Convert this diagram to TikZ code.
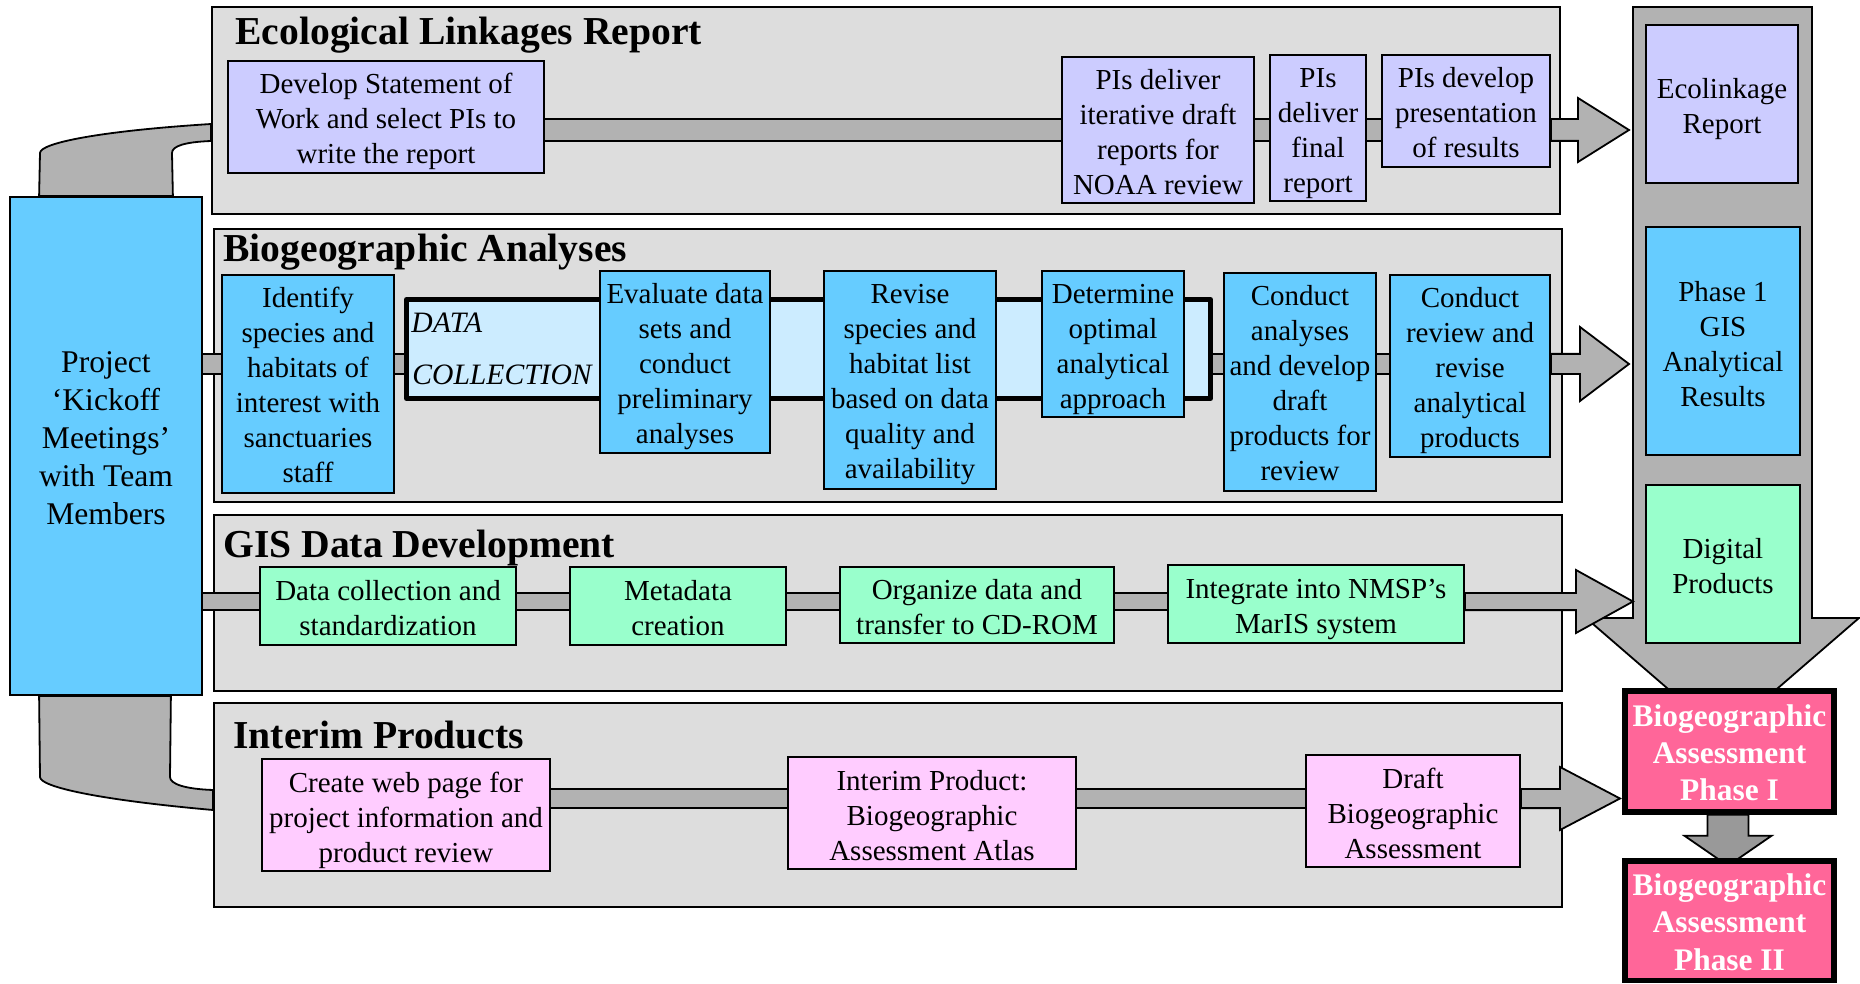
\documentclass[tikz,border=0pt]{standalone}
\usepackage{fontspec}
\setmainfont{Liberation Serif}
\usetikzlibrary{fit,calc}

\definecolor{panelgray}{HTML}{DDDDDD}
\definecolor{bargray}{HTML}{B2B2B2}
\definecolor{darkbar}{HTML}{999999}
\definecolor{ecofill}{HTML}{CCCCFF}
\definecolor{bluefill}{HTML}{66CCFF}
\definecolor{paleblue}{HTML}{CCECFF}
\definecolor{greenfill}{HTML}{99FFCC}
\definecolor{pinkfill}{HTML}{FFCCFF}
\definecolor{rosefill}{HTML}{FF6699}

% Text of a box: #1 text style, #2 box node, #3 number of lines,
% #4 line pitch (px), #5 offset of the middle baseline below the centre (px), #6 lines
\newcommand{\boxlabel}[6]{%
  \node[#1] (#2-t) at ($(#2.center)+(0,{#5-(#3-1)*#4/2})$)
    {\begin{tabular}[t]{@{}c@{}}#6\end{tabular}};}

\pgfdeclarelayer{bandlayer}
\pgfdeclarelayer{panellayer}
\pgfdeclarelayer{barlayer}
\pgfsetlayers{bandlayer,panellayer,barlayer,main}

\tikzset{
  panel/.style={draw, fill=panelgray, line width=1pt, inner sep=0pt},
  box/.style={draw, line width=0.9pt, inner sep=0pt},
  ecobox/.style={box, fill=ecofill},
  biobox/.style={box, fill=bluefill},
  gisbox/.style={box, fill=greenfill},
  intbox/.style={box, fill=pinkfill},
  phasebox/.style={box, fill=rosefill, line width=2.8pt},
  boxtext/.style={anchor=base, inner sep=0pt, font=\fontsize{14.5pt}{17.5pt}\selectfont},
  kicktext/.style={boxtext, font=\fontsize{15.8pt}{19pt}\selectfont},
  phasetext/.style={boxtext, text=white, font=\bfseries\fontsize{15.7pt}{18.7pt}\selectfont},
  dcframe/.style={draw, fill=paleblue, line width=2.5pt, line join=round, inner sep=0pt},
  paneltitle/.style={anchor=base west, inner sep=0pt,
    font=\bfseries\fontsize{19.8pt}{24pt}\selectfont},
  dclabel/.style={anchor=base west, inner sep=0pt,
    font=\itshape\fontsize{14.8pt}{17.5pt}\selectfont},
  bar/.style={draw=black, line width=0.9pt, double=bargray, double distance=#1},
  arrowshape/.style={draw=black, fill=bargray, line width=0.9pt, line join=miter},
  band/.style={draw=black, fill=bargray, line width=0.9pt},
}

\begin{document}
\begin{tikzpicture}[x=0.5pt, y=-0.5pt]
\useasboundingbox (0,0) rectangle (1860,984);
\begin{pgfonlayer}{bandlayer}
  \fill[white] (0,0) rectangle (1860,984);
\end{pgfonlayer}

% ---------- lane panels ----------
\begin{pgfonlayer}{panellayer}
  \node[panel, fit={(212,7) (1560,214)}] (eco) {};
  \node[panel, fit={(214,229) (1562,502)}] (bio) {};
  \node[panel, fit={(214,515) (1562,691)}] (gis) {};
  \node[panel, fit={(214,703) (1562,907)}] (int) {};
\end{pgfonlayer}

\node[paneltitle] (ecot) at (235,45) {Ecological Linkages Report};
\node[paneltitle] (biot) at (223,262) {Biogeographic Analyses};
\node[paneltitle] (gist) at (223,557) {GIS Data Development};
\node[paneltitle] (intt) at (233,748) {Interim Products};

% ---------- boxes ----------
\node[biobox, fit={(10,197) (202,695)}] (kick) {};

\node[ecobox, fit={(228,61) (544,173)}] (dev) {};
\node[ecobox, fit={(1062,57) (1254,203)}] (pid) {};
\node[ecobox, fit={(1270,55) (1366,201)}] (pfr) {};
\node[ecobox, fit={(1382,55) (1550,167)}] (pdp) {};

\node[dcframe, fit={(406.5,299.5) (1210.5,398.5)}] (dc) {};
\node[dclabel] (dct1) at (411,333) {DATA};
\node[dclabel] (dct2) at (412,385) {COLLECTION};
\node[biobox, fit={(222,275) (394,493)}] (ident) {};
\node[biobox, fit={(600,271) (770,453)}] (evl) {};
\node[biobox, fit={(824,271) (996,489)}] (rev) {};
\node[biobox, fit={(1042,271) (1184,417)}] (det) {};
\node[biobox, fit={(1224,273) (1376,491)}] (cond) {};
\node[biobox, fit={(1390,275) (1550,457)}] (crev) {};

\node[gisbox, fit={(260,567) (516,645)}] (dcs) {};
\node[gisbox, fit={(570,567) (786,645)}] (meta) {};
\node[gisbox, fit={(840,567) (1114,643)}] (org) {};
\node[gisbox, fit={(1168,565) (1464,643)}] (integ) {};

\node[intbox, fit={(262,759) (550,871)}] (web) {};
\node[intbox, fit={(788,757) (1076,869)}] (atlas) {};
\node[intbox, fit={(1306,755) (1520,867)}] (draft) {};

\node[ecobox, fit={(1646,25) (1798,183)}] (ecorep) {};
\node[biobox, fit={(1646,227) (1800,455)}] (gisres) {};
\node[gisbox, fit={(1646,485) (1800,643)}] (digi) {};
\node[phasebox, fit={(1625,691) (1834,812)}] (p1) {};
\node[phasebox, fit={(1625,861) (1834,980.5)}] (p2) {};

% ---------- box texts ----------
\boxlabel{kicktext}{kick}{5}{38}{3}{Project\\‘Kickoff\\Meetings’\\with Team\\Members}
\boxlabel{boxtext}{dev}{3}{35}{12}{Develop Statement of\\Work and select PIs to\\write the report}
\boxlabel{boxtext}{pid}{4}{35}{12}{PIs deliver\\iterative draft\\reports for\\NOAA review}
\boxlabel{boxtext}{pfr}{4}{35}{12}{PIs\\deliver\\final\\report}
\boxlabel{boxtext}{pdp}{3}{35}{12}{PIs develop\\presentation\\of results}
\boxlabel{boxtext}{ident}{6}{35}{11}{Identify\\species and\\habitats of\\interest with\\sanctuaries\\staff}
\boxlabel{boxtext}{evl}{5}{35}{12}{Evaluate data\\sets and\\conduct\\preliminary\\analyses}
\boxlabel{boxtext}{rev}{6}{35}{11}{Revise\\species and\\habitat list\\based on data\\quality and\\availability}
\boxlabel{boxtext}{det}{4}{35}{12}{Determine\\optimal\\analytical\\approach}
\boxlabel{boxtext}{cond}{6}{35}{11}{Conduct\\analyses\\and develop\\draft\\products for\\review}
\boxlabel{boxtext}{crev}{5}{35}{12}{Conduct\\review and\\revise\\analytical\\products}
\boxlabel{boxtext}{dcs}{2}{35}{12}{Data collection and\\standardization}
\boxlabel{boxtext}{meta}{2}{35}{12}{Metadata\\creation}
\boxlabel{boxtext}{org}{2}{35}{12}{Organize data and\\transfer to CD-ROM}
\boxlabel{boxtext}{integ}{2}{35}{12}{Integrate into NMSP’s\\MarIS system}
\boxlabel{boxtext}{web}{3}{35}{12}{Create web page for\\project information and\\product review}
\boxlabel{boxtext}{atlas}{3}{35}{12}{Interim Product:\\Biogeographic\\Assessment Atlas}
\boxlabel{boxtext}{draft}{3}{35}{12}{Draft\\Biogeographic\\Assessment}
\boxlabel{boxtext}{ecorep}{2}{35}{12}{Ecolinkage\\Report}
\boxlabel{boxtext}{gisres}{4}{35}{13}{Phase 1\\GIS\\Analytical\\Results}
\boxlabel{boxtext}{digi}{2}{35}{12}{Digital\\Products}
\boxlabel{phasetext}{p1}{3}{37.4}{12}{Biogeographic\\Assessment\\Phase I}
\boxlabel{phasetext}{p2}{3}{37.4}{12}{Biogeographic\\Assessment\\Phase II}

% ---------- curved bands from the kickoff box ----------
\begin{pgfonlayer}{bandlayer}
  \draw[band] ($(kick.north west)+(30,0)$) -- (40,153)
      .. controls (40,143) and (100,131) .. (eco.west |- 0,124)
      -- (eco.west |- 0,141)
      .. controls (185,142) and (172,146) .. (172,153)
      -- ($(kick.north east)+(-30,0)$) -- cycle;
  \draw[band] ($(kick.south west)+(30,0)$) -- (40,777)
      .. controls (40,787) and (100,800) .. (int.west |- 0,810)
      -- (int.west |- 0,790)
      .. controls (185,789) and (170,784) .. (170,777)
      -- ($(kick.south east)+(-32,0)$) -- cycle;
\end{pgfonlayer}

% ---------- bar levels and arrow tips ----------
\coordinate (r1) at (0,130);   \coordinate (r1t) at (0,119.1); \coordinate (r1b) at (0,140.9);
\coordinate (r2) at (0,364);   \coordinate (r2t) at (0,353.9); \coordinate (r2b) at (0,374.1);
\coordinate (r3) at (0,601.5); \coordinate (r3t) at (0,592.9); \coordinate (r3b) at (0,610.1);
\coordinate (r4) at (0,798.5); \coordinate (r4t) at (0,788.9); \coordinate (r4b) at (0,808.1);
\coordinate (tip1) at (1629,130);
\coordinate (tip2) at (1629,364);
\coordinate (tip3) at (1633,601.5);
\coordinate (tip4) at (1620,798.5);

\begin{pgfonlayer}{panellayer}
  % wide downward arrow behind the products column
  \draw[arrowshape] (1633,7) -- (1812,7) -- (1812,618) -- (1859,618)
      -- (1722.5,736) -- (1586,618) -- (1633,618) -- cycle;
\end{pgfonlayer}

\begin{pgfonlayer}{barlayer}
  % lane 1
  \draw[bar=10pt] (dev.east |- r1) -- (pid.west |- r1);
  \draw[bar=10pt] (pid.east |- r1) -- (pfr.west |- r1);
  \draw[bar=10pt] (pfr.east |- r1) -- (pdp.west |- r1);
  \draw[arrowshape] (pdp.east |- r1t) -- (1578,119.1) -- (1578,98) -- (tip1)
      -- (1578,162) -- (1578,140.9) -- (pdp.east |- r1b) -- cycle;
  % lane 2
  \draw[bar=9.2pt] (kick.east |- r2) -- (ident.west |- r2);
  \draw[bar=9.2pt] (ident.east |- r2) -- (dc.west |- r2);
  \draw[bar=9.2pt] (dc.east |- r2) -- (cond.west |- r2);
  \draw[bar=9.2pt] (cond.east |- r2) -- (crev.west |- r2);
  \draw[arrowshape] (crev.east |- r2t) -- (1580,353.9) -- (1580,327) -- (tip2)
      -- (1580,401) -- (1580,374.1) -- (crev.east |- r2b) -- cycle;
  % lane 3
  \draw[bar=7.7pt] (kick.east |- r3) -- (dcs.west |- r3);
  \draw[bar=7.7pt] (dcs.east |- r3) -- (meta.west |- r3);
  \draw[bar=7.7pt] (meta.east |- r3) -- (org.west |- r3);
  \draw[bar=7.7pt] (org.east |- r3) -- (integ.west |- r3);
  \draw[arrowshape] (integ.east |- r3t) -- (1576,592.9) -- (1576,570) -- (tip3)
      -- (1576,633) -- (1576,610.1) -- (integ.east |- r3b) -- cycle;
  % lane 4
  \draw[bar=8.7pt] (web.east |- r4) -- (atlas.west |- r4);
  \draw[bar=8.7pt] (atlas.east |- r4) -- (draft.west |- r4);
  \draw[arrowshape] (draft.east |- r4t) -- (1560,788.9) -- (1560,767) -- (tip4)
      -- (1560,830) -- (1560,808.1) -- (draft.east |- r4b) -- cycle;
  % phase I to phase II
  \draw[arrowshape, fill=darkbar] ($(p1.south)+(-22,0)$) -- ($(p1.south)+(-22,21)$)
      -- ($(p1.south)+(-45,21)$) -- ($(p1.south)+(-1.5,51)$)
      -- ($(p1.south)+(42,21)$) -- ($(p1.south)+(19,21)$)
      -- ($(p1.south)+(19,0)$) -- cycle;
\end{pgfonlayer}
\end{tikzpicture}
\end{document}
